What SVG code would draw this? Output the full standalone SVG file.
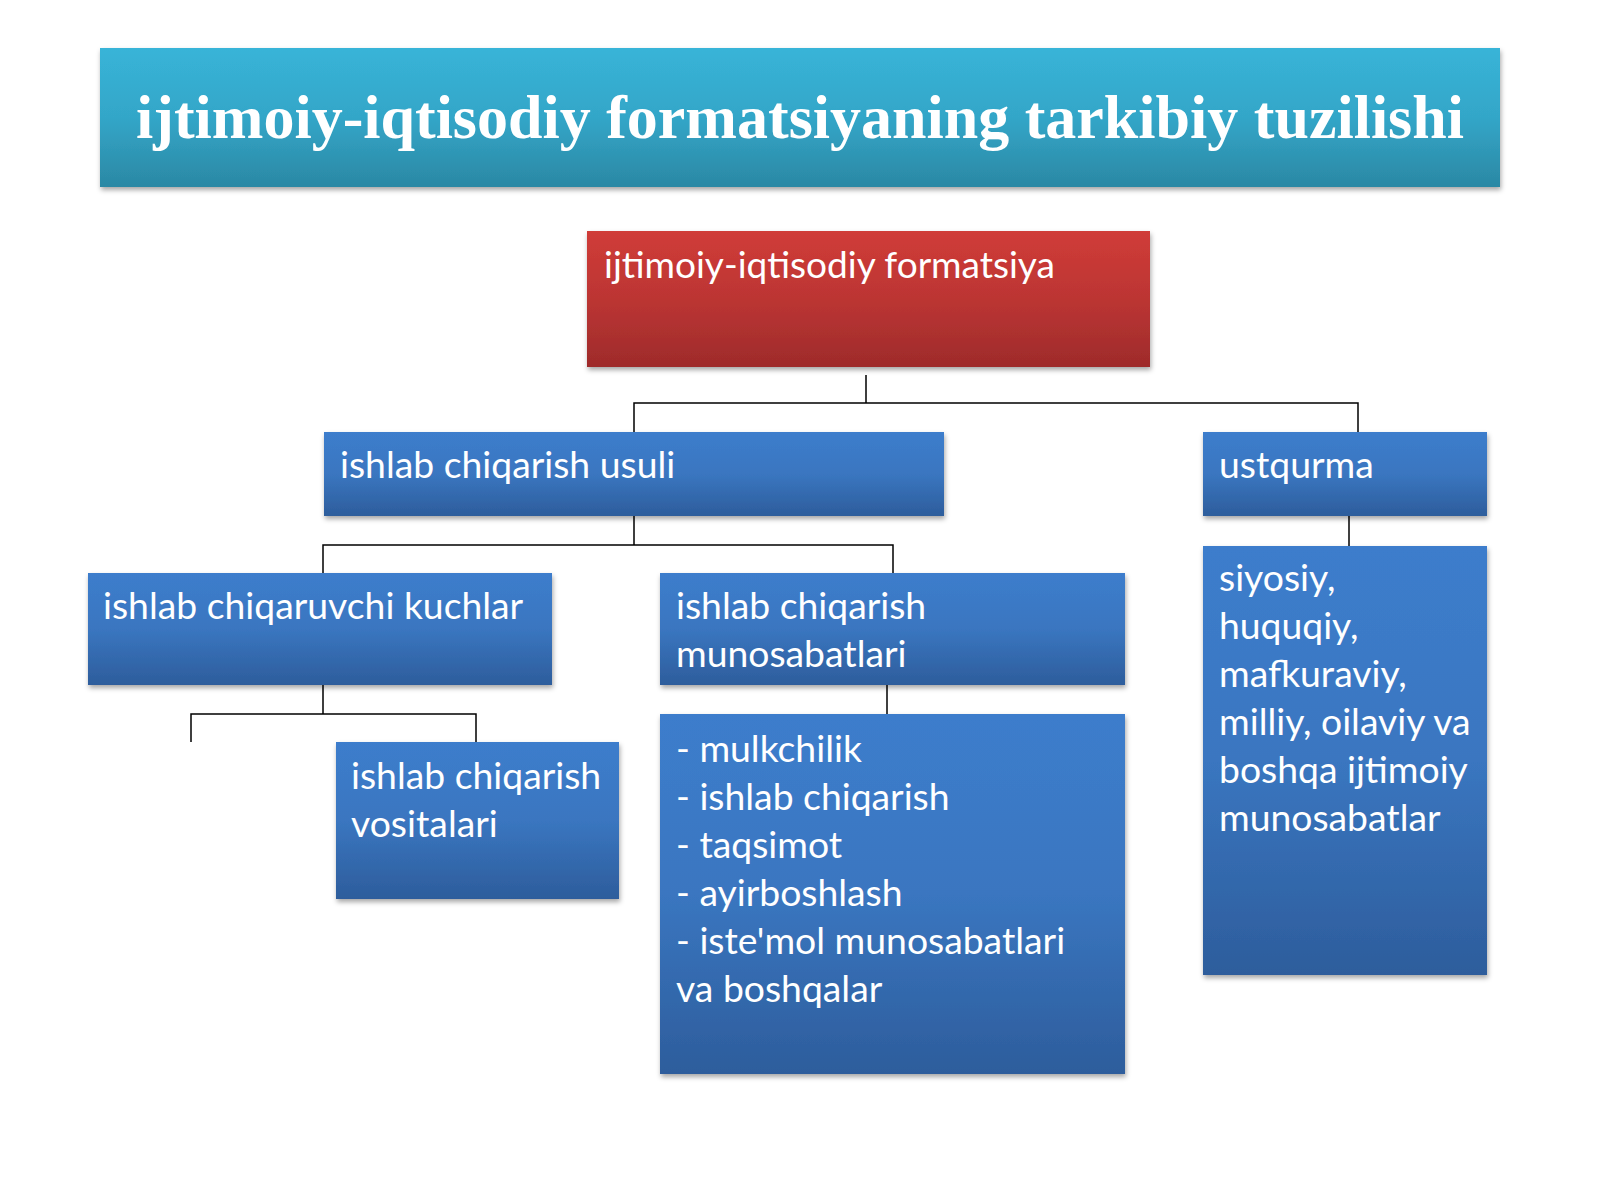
<svg xmlns="http://www.w3.org/2000/svg" width="1600" height="1200" viewBox="0 0 1600 1200">
<defs>
<linearGradient id="gBlue" x1="0" y1="0" x2="0" y2="1">
<stop offset="0" stop-color="#3c7dcc"/>
<stop offset="0.5" stop-color="#3a76c0"/>
<stop offset="1" stop-color="#2d5d9c"/>
</linearGradient>
<linearGradient id="gRed" x1="0" y1="0" x2="0" y2="1">
<stop offset="0" stop-color="#d03c38"/>
<stop offset="0.5" stop-color="#bc3533"/>
<stop offset="1" stop-color="#9e2b2b"/>
</linearGradient>
<linearGradient id="gTitle" x1="0" y1="0" x2="0" y2="1">
<stop offset="0" stop-color="#38b4d8"/>
<stop offset="0.5" stop-color="#33a6c8"/>
<stop offset="1" stop-color="#2b88a4"/>
</linearGradient>
<filter id="sh" x="-5%" y="-5%" width="110%" height="120%">
<feDropShadow dx="1" dy="3" stdDeviation="2.5" flood-color="#000" flood-opacity="0.35"/>
</filter>
</defs>
<style>
.box{filter:url(#sh);}
.blue{fill:url(#gBlue);}
.t{font-family:Lato,"Open Sans","Liberation Sans",sans-serif;font-size:37.3px;fill:#ffffff;}
.title{font-family:"Liberation Serif","Times New Roman",serif;font-weight:bold;font-size:62px;fill:#ffffff;}
.c{stroke:#000;stroke-width:1.5;fill:none;}
</style>
<rect width="1600" height="1200" fill="#ffffff"/>

<g id="title">
<rect class="box" x="100" y="48" width="1400" height="139" fill="url(#gTitle)"/>
<text class="title" x="800" y="138" text-anchor="middle">ijtimoiy-iqtisodiy formatsiyaning tarkibiy tuzilishi</text>
</g>

<g id="connectors">
<path class="c" d="M866 375 V403 M634 432 V403 H1358 V432"/>
<path class="c" d="M634 516 V545 M323 573 V545 H893 V573"/>
<path class="c" d="M1349 516 V546"/>
<path class="c" d="M323 685 V714 M191 742 V714 H476 V742"/>
<path class="c" d="M887 685 V714"/>
</g>

<g id="node-formatsiya">
<rect class="box" x="587" y="231" width="563" height="136" fill="url(#gRed)"/>
<text class="t" x="604" y="278" style="font-size:37px">ijtimoiy-iqtisodiy formatsiya</text>
</g>

<g id="node-usuli">
<rect class="box blue" x="324" y="432" width="620" height="84"/>
<text class="t" x="340" y="478">ishlab chiqarish usuli</text>
</g>

<g id="node-ustqurma">
<rect class="box blue" x="1203" y="432" width="284" height="84"/>
<text class="t" x="1219" y="478">ustqurma</text>
</g>

<g id="node-kuchlar">
<rect class="box blue" x="88" y="573" width="464" height="112"/>
<text class="t" x="103" y="619">ishlab chiqaruvchi kuchlar</text>
</g>

<g id="node-munosabatlari">
<rect class="box blue" x="660" y="573" width="465" height="112"/>
<text class="t" x="676" y="619">ishlab chiqarish</text>
<text class="t" x="676" y="667">munosabatlari</text>
</g>

<g id="node-vositalari">
<rect class="box blue" x="336" y="742" width="283" height="157"/>
<text class="t" x="351" y="789">ishlab chiqarish</text>
<text class="t" x="351" y="837">vositalari</text>
</g>

<g id="node-list">
<rect class="box blue" x="660" y="714" width="465" height="360"/>
<text class="t" x="676" y="762">- mulkchilik</text>
<text class="t" x="676" y="810">- ishlab chiqarish</text>
<text class="t" x="676" y="858">- taqsimot</text>
<text class="t" x="676" y="906">- ayirboshlash</text>
<text class="t" x="676" y="954">- iste'mol munosabatlari</text>
<text class="t" x="676" y="1002">va boshqalar</text>
</g>

<g id="node-ustqurma-list">
<rect class="box blue" x="1203" y="546" width="284" height="429"/>
<text class="t" x="1219" y="591">siyosiy,</text>
<text class="t" x="1219" y="639">huquqiy,</text>
<text class="t" x="1219" y="687">mafkuraviy,</text>
<text class="t" x="1219" y="735">milliy, oilaviy va</text>
<text class="t" x="1219" y="783">boshqa ijtimoiy</text>
<text class="t" x="1219" y="831">munosabatlar</text>
</g>
</svg>
